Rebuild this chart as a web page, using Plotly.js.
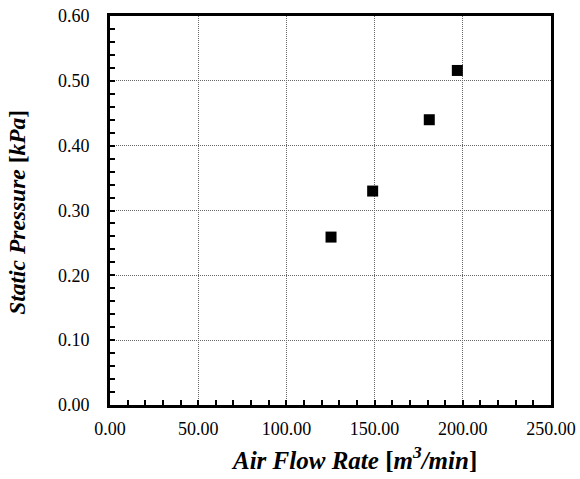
<!DOCTYPE html>
<html>
<head>
<meta charset="utf-8">
<script src="https://cdn.plot.ly/plotly-3.0.1.min.js"></script>
<style>html,body{margin:0;padding:0;background:#fff;}</style>
</head>
<body>
<div id="chart" style="width:580px;height:479px;"></div>
<script>
const airFlow = [125.3, 148.9, 181.0, 196.9];
const staticPressure = [0.259, 0.330, 0.440, 0.516];
const xTitle = '<b><i>Air Flow Rate</i> [<i>m<sup>3</sup>/min</i>]</b>';
const yTitle = '<b><i>Static Pressure</i> [<i>kPa</i>]</b>';

const font = {family: 'Liberation Serif', color: '#000'};

Plotly.newPlot('chart', [{
  x: airFlow, y: staticPressure, type: 'scatter', mode: 'markers',
  marker: {symbol: 'square', size: 11, color: '#000'}
}], {
  width: 580, height: 479,
  margin: {l: 110, r: 29, t: 16, b: 74},
  paper_bgcolor: '#fff', plot_bgcolor: '#fff',
  showlegend: false,
  font: Object.assign({size: 18}, font),
  xaxis: {
    range: [0, 250], dtick: 50, tick0: 0, tickformat: '.2f',
    ticks: 'inside', ticklen: 5, tickwidth: 2, tickcolor: '#000',
    minor: {dtick: 10, ticks: 'inside', ticklen: 5, tickwidth: 2, tickcolor: '#000', showgrid: false},
    showline: true, linewidth: 3, linecolor: '#000', mirror: true,
    showgrid: true, gridcolor: '#666', griddash: '1px,1px', gridwidth: 1,
    zeroline: false,
    ticklabelstandoff: 5,
    tickfont: Object.assign({size: 18}, font)
  },
  yaxis: {
    range: [0, 0.6], dtick: 0.1, tick0: 0, tickformat: '.2f',
    ticks: 'inside', ticklen: 5, tickwidth: 2, tickcolor: '#000',
    minor: {dtick: 0.02, ticks: 'inside', ticklen: 5, tickwidth: 2, tickcolor: '#000', showgrid: false},
    showline: true, linewidth: 3, linecolor: '#000', mirror: true,
    showgrid: true, gridcolor: '#666', griddash: '1px,1px', gridwidth: 1,
    zeroline: false,
    ticklabelstandoff: 14,
    tickfont: Object.assign({size: 18}, font)
  },
  annotations: [
    {text: xTitle, xref: 'paper', yref: 'paper', x: 0.553, y: -0.135,
     xanchor: 'center', yanchor: 'middle', showarrow: false,
     font: Object.assign({size: 25}, font)},
    {text: yTitle, xref: 'paper', yref: 'paper', x: -0.21, y: 0.495,
     xanchor: 'center', yanchor: 'middle', showarrow: false, textangle: -90,
     font: Object.assign({size: 23.5}, font)}
  ]
}, {displayModeBar: false, staticPlot: true});
</script>
</body>
</html>
